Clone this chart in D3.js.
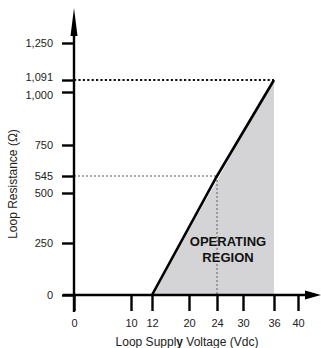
<!DOCTYPE html>
<html>
<head>
<meta charset="utf-8">
<script src="https://cdn.jsdelivr.net/npm/d3@7"></script>
<style>
  body { margin:0; background:#fff; }
  text { font-family: "Liberation Sans", Arial, Helvetica, sans-serif; fill:#222; }
</style>
</head>
<body>
<div id="chart"></div>
<script>
// values
const voltTicks = [0, 10, 12, 20, 24, 30, 36, 40]
const resTicks = [0, 250, 500, 545, 750, 1000, 1091, 1250]
const loadLine = [{v:12, r:0}, {v:24, r:545}, {v:36, r:1091}]
const region = [{v:12, r:0}, {v:36, r:1091}, {v:36, r:0}]
const marker545 = {v:24, r:545}
const marker1091 = {v:36, r:1091}

const width = 321, height = 348

const svg = d3.select("#chart")
  .append("svg")
    .attr("width", width)
    .attr("height", height)

// the original drawing is schematic, so the axes are piecewise (polylinear)
const x = d3.scaleLinear()
  .domain(voltTicks)
  .range([74, 131, 152, 189, 217, 243, 274, 298])
const y = d3.scaleLinear()
  .domain(resTicks)
  .range([295, 243, 193, 176, 145, 92, 80, 43])

// shaded operating region
svg.append("path")
  .datum(region)
  .attr("d", d3.line().x(d => x(d.v)).y(d => y(d.r)))
  .attr("fill", "#d4d4d6")

// dotted guides
svg.append("line")
  .attr("x1", x(0)).attr("x2", x(marker1091.v))
  .attr("y1", y(marker1091.r)).attr("y2", y(marker1091.r))
  .style("stroke", "#111")
  .style("stroke-width", 2.2)
  .style("stroke-dasharray", "2.2,2.2")
svg.append("line")
  .attr("x1", x(0)).attr("x2", x(marker545.v))
  .attr("y1", y(marker545.r)).attr("y2", y(marker545.r))
  .style("stroke", "#8a8a8a")
  .style("stroke-width", 1.6)
  .style("stroke-dasharray", "2,2")
svg.append("line")
  .attr("x1", x(marker545.v)).attr("x2", x(marker545.v))
  .attr("y1", y(marker545.r)).attr("y2", y(0))
  .style("stroke", "#8a8a8a")
  .style("stroke-width", 1.6)
  .style("stroke-dasharray", "2,2")

// load line
svg.append("path")
  .datum(loadLine)
  .attr("d", d3.line().x(d => x(d.v)).y(d => y(d.r)))
  .attr("fill", "none")
  .style("stroke", "#000")
  .style("stroke-width", 2.6)

// axes
const xAxis = svg.append("g")
  .attr("transform", "translate(0," + y(0) + ")")
  .call(d3.axisBottom(x).tickValues(voltTicks).tickSize(16).tickPadding(8).tickFormat(d3.format("d")))
const yAxis = svg.append("g")
  .attr("transform", "translate(" + x(0) + ",0)")
  .call(d3.axisLeft(y).tickValues(resTicks).tickSize(12).tickPadding(9).tickFormat(d3.format(",")))
;[xAxis, yAxis].forEach(g => {
  g.select(".domain").remove()
  g.selectAll(".tick line").style("stroke", "#000").style("stroke-width", 2.4)
  g.selectAll(".tick text").style("font-size", "11px").style("fill", "#222")
    .style("font-family", '"Liberation Sans", Arial, sans-serif')
})
// nudge the crowded labels apart
yAxis.selectAll(".tick text")
  .attr("dy", d => d === 1091 ? "0" : d === 1000 ? "0.6em" : "0.32em")

// axis lines with arrow heads
svg.append("line")
  .attr("x1", x(0)).attr("x2", x(0))
  .attr("y1", y(0) + 17).attr("y2", 30)
  .style("stroke", "#000").style("stroke-width", 2.4)
svg.append("path")
  .attr("d", "M" + (x(0) - 3.5) + ",36 L" + x(0) + ",8 L" + (x(0) + 3.5) + ",36 Z")
  .attr("fill", "#000")
svg.append("line")
  .attr("x1", x(0) - 11).attr("x2", 310)
  .attr("y1", y(0)).attr("y2", y(0))
  .style("stroke", "#000").style("stroke-width", 2.4)
svg.append("path")
  .attr("d", "M305," + (y(0) - 4.5) + " L321," + y(0) + " L305," + (y(0) + 4.5) + " Z")
  .attr("fill", "#000")

// region label
const lbl = svg.append("text")
  .attr("text-anchor", "middle")
  .style("font-size", "13px")
  .style("font-weight", "bold")
  .style("fill", "#111")
lbl.append("tspan").attr("x", 228).attr("y", 246).text("OPERATING")
lbl.append("tspan").attr("x", 228).attr("y", 262).text("REGION")

// axis titles
const xt = svg.append("text")
  .attr("x", 187)
  .attr("y", 346)
  .attr("text-anchor", "middle")
  .style("font-size", "12px")
xt.append("tspan").text("Loop Suppl")
xt.append("tspan").style("font-weight", "bold").text("y")
xt.append("tspan").text(" Voltage (Vdc)")

svg.append("text")
  .attr("transform", "translate(17,184) rotate(-90)")
  .attr("text-anchor", "middle")
  .style("font-size", "12px")
  .text("Loop Resistance (Ω)")
</script>
</body>
</html>
